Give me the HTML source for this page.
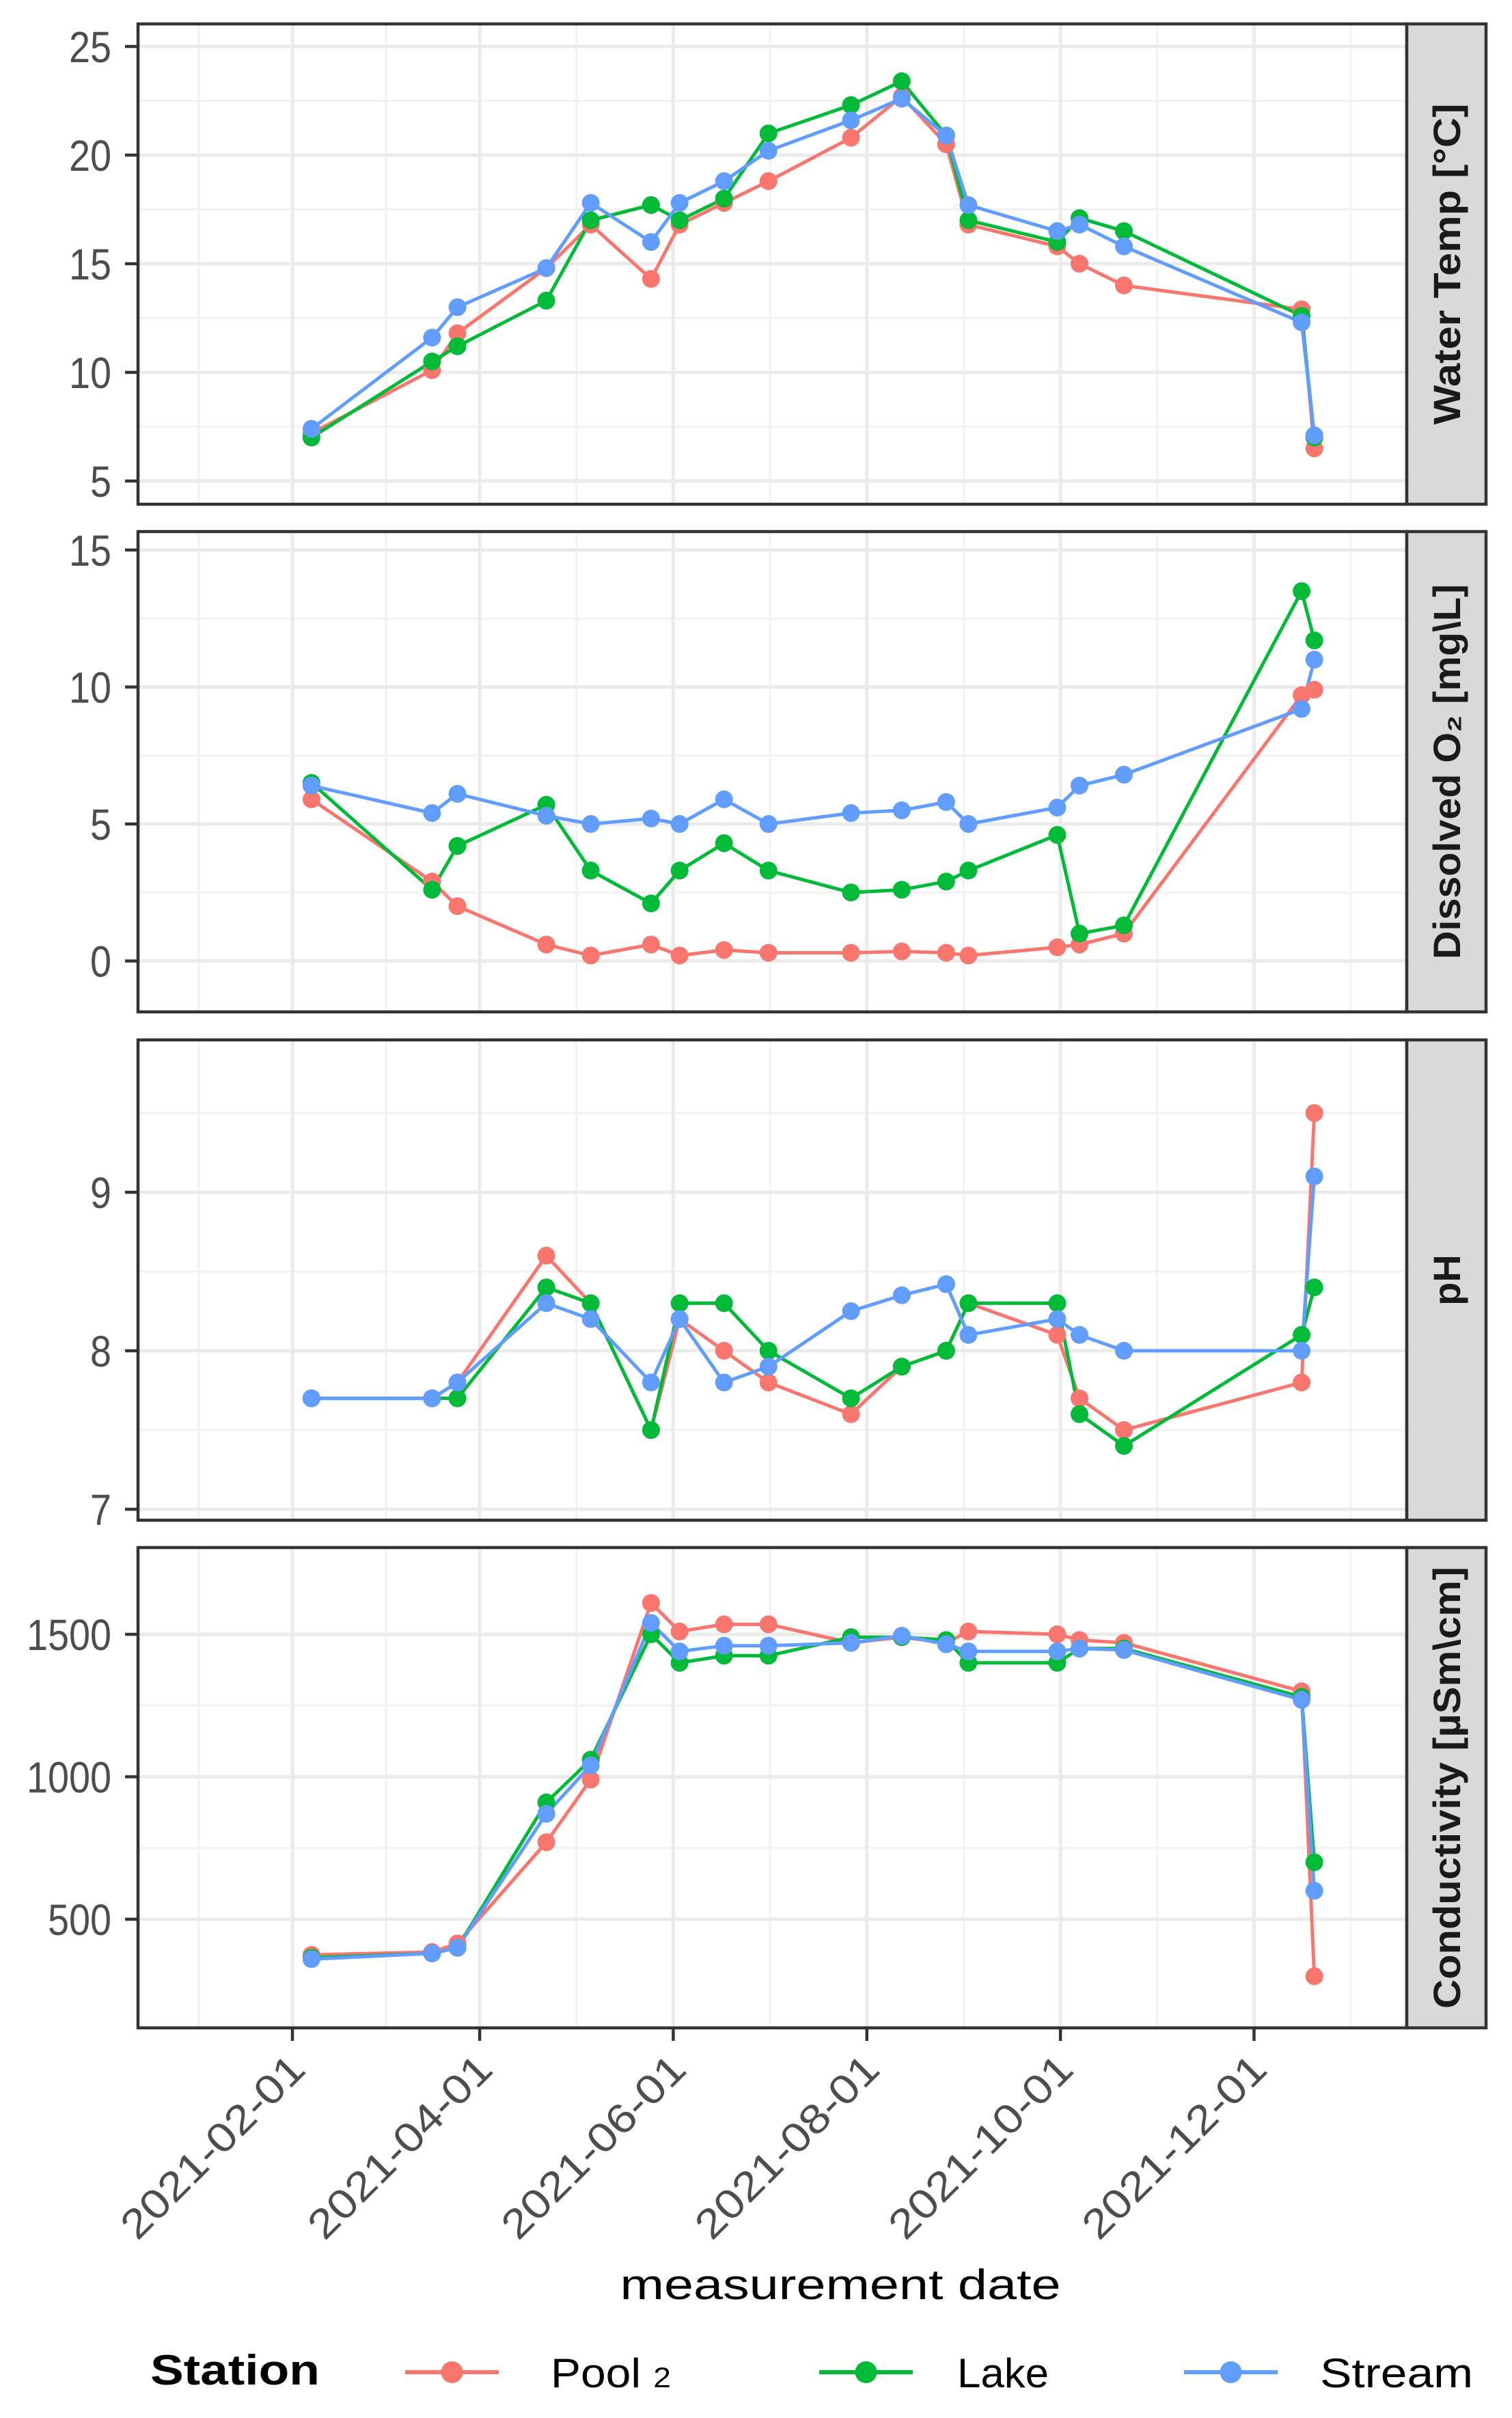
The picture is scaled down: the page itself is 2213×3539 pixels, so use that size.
<!DOCTYPE html>
<html><head><meta charset="utf-8">
<style>
html,body{margin:0;padding:0;background:#fff;}
svg{display:block;}
text{font-family:"Liberation Sans","DejaVu Sans",sans-serif;}
</style></head>
<body>
<svg id="chart" width="2213" height="3539" viewBox="0 0 2213 3539" xmlns="http://www.w3.org/2000/svg"></svg>
<script>
// ---- data ----
const startDate = "2021-02-01";
const dayOffsets = [6,44,52,80,94,113,122,136,150,176,192,206,213,241,248,262,318,322];
const stations = ["Pool 2","Lake","Stream"];
const tempPool   = [7.2,10.1,11.8,14.8,16.8,14.3,16.8,17.8,18.8,20.8,22.7,20.5,16.8,15.8,15.0,14.0,12.9,6.5];
const tempLake   = [7.0,10.5,11.2,13.3,17.0,17.7,17.0,18.0,21.0,22.3,23.4,20.9,17.0,16.0,17.1,16.5,12.6,7.0];
const tempStream = [7.4,11.6,13.0,14.8,17.8,16.0,17.8,18.8,20.2,21.6,22.6,20.9,17.7,16.5,16.8,15.8,12.3,7.1];
const doPool   = [5.9,2.9,2.0,0.6,0.2,0.6,0.2,0.4,0.3,0.3,0.35,0.3,0.2,0.5,0.6,1.0,9.7,9.9];
const doLake   = [6.5,2.6,4.2,5.7,3.3,2.1,3.3,4.3,3.3,2.5,2.6,2.9,3.3,4.6,1.0,1.3,13.5,11.7];
const doStream = [6.4,5.4,6.1,5.3,5.0,5.2,5.0,5.9,5.0,5.4,5.5,5.8,5.0,5.6,6.4,6.8,9.2,11.0];
const phPool   = [7.7,7.7,7.8,8.6,8.3,7.5,8.2,8.0,7.8,7.6,7.9,8.0,8.3,8.1,7.7,7.5,7.8,9.5];
const phLake   = [7.7,7.7,7.7,8.4,8.3,7.5,8.3,8.3,8.0,7.7,7.9,8.0,8.3,8.3,7.6,7.4,8.1,8.4];
const phStream = [7.7,7.7,7.8,8.3,8.2,7.8,8.2,7.8,7.9,8.25,8.35,8.42,8.1,8.2,8.1,8.0,8.0,9.1];
const condPool   = [375,385,415,770,990,1610,1510,1535,1535,1470,1490,1470,1510,1500,1480,1470,1300,300];
const condLake   = [365,380,400,910,1060,1500,1400,1425,1425,1490,1490,1480,1400,1400,1450,1450,1280,700];
const condStream = [360,380,400,870,1040,1540,1440,1460,1460,1470,1495,1465,1440,1440,1450,1445,1270,600];
const xTickLabels = ["2021-02-01","2021-04-01","2021-06-01","2021-08-01","2021-10-01","2021-12-01"];
const tempTicks = [5,10,15,20,25];
const doTicks = [0,5,10,15];
const phTicks = [7,8,9];
const condTicks = [500,1000,1500];
const panelTitles = ["Water Temp [°C]","Dissolved O₂ [mg\\L]","pH","Conductivity [µSm\\cm]"];

// ---- layout ----
const NS="http://www.w3.org/2000/svg";
const svg=document.getElementById('chart');
const colors=["#F8766D","#00BA38","#619CFF"];
const X0=202, X1=2059, SX0=2059, SX1=2175;
const PH=703;
const tops=[35,778,1522,2265];
const DAY=86400000;
const t0=Date.parse(startDate);
function dayOf(s){return (Date.parse(s)-t0)/DAY;}
function xs(d){return 428 + d*4.645;}
const dMin=(X0-428)/4.645, dMax=(X1-428)/4.645;

function el(tag,attrs,parent){const e=document.createElementNS(NS,tag);for(const k in attrs)e.setAttribute(k,attrs[k]);(parent||svg).appendChild(e);return e;}

// y-scales: value->pixel calibrated from reference
const yScales=[
  v=>704-(v-5)*31.8,
  v=>1406.5-v*(1406.5-805)/15,
  v=>1977-(v-8)*232,
  v=>2809-(v-500)*(2809-2392)/1000
];
const minorY=[[7.5,12.5,17.5,22.5],[2.5,7.5,12.5],[7.5,8.5,9.5],[750,1250]];
const majorY=[tempTicks,doTicks,phTicks,condTicks];
const series=[[tempPool,tempLake,tempStream],[doPool,doLake,doStream],[phPool,phLake,phStream],[condPool,condLake,condStream]];
const panelNames=["water-temp","dissolved-oxygen","ph","conductivity"];
const stationKeys=["pool2","lake","stream"];

const tickDays=xTickLabels.map(dayOf);
const minorDays=[];
minorDays.push(tickDays[0]-(tickDays[1]-tickDays[0])/2);
for(let i=0;i<tickDays.length-1;i++)minorDays.push((tickDays[i]+tickDays[i+1])/2);
minorDays.push(tickDays[tickDays.length-1]+(tickDays[tickDays.length-1]-tickDays[tickDays.length-2])/2);

for(let p=0;p<4;p++){
  const top=tops[p], bot=top+PH, ys=yScales[p];
  const g=el('g',{});
  
  
  el('rect',{x:X0,y:top,width:X1-X0,height:PH,fill:'#fff'},g);
  // grid
  minorY[p].forEach(v=>{const y=ys(v);if(y>top&&y<bot){const l=el('line',{x1:X0,x2:X1,y1:y,y2:y,stroke:'#f2f2f2','stroke-width':3},g);}});
  minorDays.forEach(d=>{const x=xs(d);if(x>X0&&x<X1){const l=el('line',{x1:x,x2:x,y1:top,y2:bot,stroke:'#f2f2f2','stroke-width':3},g);}});
  majorY[p].forEach(v=>{const y=ys(v);const l=el('line',{x1:X0,x2:X1,y1:y,y2:y,stroke:'#ebebeb','stroke-width':5},g);});
  tickDays.forEach(d=>{const x=xs(d);const l=el('line',{x1:x,x2:x,y1:top,y2:bot,stroke:'#ebebeb','stroke-width':5},g);});
  // series
  for(let s=0;s<3;s++){
    const vals=series[p][s];
    const pts=vals.map((v,i)=>xs(dayOffsets[i]).toFixed(1)+','+ys(v).toFixed(1)).join(' ');
    const pl=el('polyline',{points:pts,fill:'none',stroke:colors[s],'stroke-width':5,'stroke-linejoin':'round'},g);
    
    
  }
  for(let s=0;s<3;s++){
    const vals=series[p][s];
    vals.forEach((v,i)=>{
      const c=el('circle',{cx:xs(dayOffsets[i]),cy:ys(v),r:13,fill:colors[s]},g);
      
      
    });
  }
  // border
  el('rect',{x:X0,y:top,width:X1-X0,height:PH,fill:'none',stroke:'#333','stroke-width':4.5},g);
  // y ticks
  majorY[p].forEach(v=>{
    const y=ys(v);
    const tk=el('line',{x1:183,x2:X0,y1:y,y2:y,stroke:'#333','stroke-width':4.5},g);
    
    
    const lab=String(v);
    const t=el('text',{x:163,y:y+23,'text-anchor':'end','font-size':64,fill:'#4d4d4d',textLength:lab.length*31,lengthAdjust:'spacingAndGlyphs'},g);
    t.textContent=lab;
    
    
  });
  // strip
  const st=el('rect',{x:SX0,y:top,width:SX1-SX0,height:PH,fill:'#d9d9d9',stroke:'#333','stroke-width':4.5},g);
  
  
  const cy=top+PH/2, cx=(SX0+SX1)/2;
  const lens=[470,549,0,647];
  const attrs={x:cx,y:cy+20,'text-anchor':'middle','font-size':56,'font-weight':'bold',fill:'#1a1a1a',transform:`rotate(-90 ${cx} ${cy})`};
  if(lens[p]){attrs.textLength=lens[p];attrs.lengthAdjust='spacingAndGlyphs';}
  const tt=el('text',attrs,g);
  tt.textContent=panelTitles[p];
  
  
}

// x axis ticks
const bottomY=tops[3]+PH;
xTickLabels.forEach((lab,i)=>{
  const x=xs(tickDays[i]);
  const tk=el('line',{x1:x,x2:x,y1:bottomY,y2:bottomY+19,stroke:'#333','stroke-width':4.5});
  
  
  const ax=x+22, ay=3032;
  const t=el('text',{x:ax,y:ay,'text-anchor':'end','font-size':60,fill:'#4d4d4d',textLength:352,lengthAdjust:'spacingAndGlyphs',transform:`rotate(-45 ${ax} ${ay})`});
  t.textContent=lab;
  
  
});

const xt=el('text',{x:1230,y:3365,'text-anchor':'middle','font-size':62,fill:'#000',textLength:645,lengthAdjust:'spacingAndGlyphs'});
xt.textContent='measurement date';



// legend
const lg=el('g',{});


const lt=el('text',{x:220,y:3490,'font-size':62,'font-weight':'bold',fill:'#000',textLength:248,lengthAdjust:'spacingAndGlyphs'},lg);
lt.textContent='Station';


const keyX=[[593,730],[1199,1336],[1733,1870]];
const labX=[806,1401,1932];
const labW=[176,134,224];
for(let s=0;s<3;s++){
  const kg=el('g',{},lg);
  
  
  el('line',{x1:keyX[s][0],x2:keyX[s][1],y1:3472,y2:3472,stroke:colors[s],'stroke-width':6},kg);
  el('circle',{cx:(keyX[s][0]+keyX[s][1])/2,cy:3472,r:16,fill:colors[s]},kg);
  const t=el('text',{x:labX[s],y:3494,'font-size':60,fill:'#000',textLength:labW[s],lengthAdjust:'spacingAndGlyphs'},kg);
  if(s===0){t.innerHTML='Pool <tspan font-size="42">2</tspan>';}else{t.textContent=stations[s];}
  
  
}
</script>
</body></html>
